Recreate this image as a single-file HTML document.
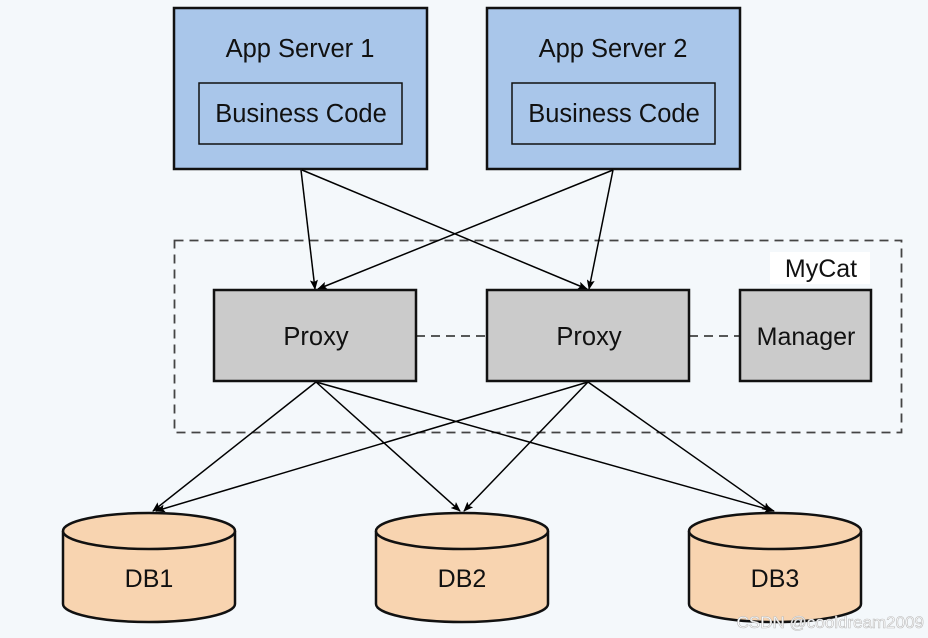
<!DOCTYPE html>
<html><head><meta charset="utf-8"><style>
html,body{margin:0;padding:0;background:#f4f8fb;}
svg{display:block;font-family:"Liberation Sans","DejaVu Sans",sans-serif;}
</style></head><body>
<svg width="928" height="638" viewBox="0 0 928 638" xmlns="http://www.w3.org/2000/svg">
<defs>
<marker id="a" markerWidth="10" markerHeight="8" refX="9" refY="4" orient="auto" markerUnits="userSpaceOnUse">
<path d="M0,0 L10,4 L0,8 L2,4 z" fill="#000"/></marker>
</defs>
<rect width="928" height="638" fill="#f4f8fb"/>
<rect x="174.5" y="240.5" width="727" height="192" fill="none" stroke="#444" stroke-width="1.8" stroke-dasharray="9,6"/>
<rect x="770" y="252" width="100" height="32" fill="#fff"/>
<text x="821" y="277" font-size="25" text-anchor="middle" fill="#111">MyCat</text>
<rect x="174" y="8" width="253" height="161" fill="#a9c6ea" stroke="#111" stroke-width="2.5"/>
<rect x="199" y="83" width="203" height="61" fill="#a9c6ea" stroke="#111" stroke-width="1.5"/>
<text x="300" y="57" font-size="25.5" text-anchor="middle" fill="#111">App Server 1</text>
<text x="301" y="122" font-size="25.5" text-anchor="middle" fill="#111">Business Code</text>
<rect x="487" y="8" width="253" height="161" fill="#a9c6ea" stroke="#111" stroke-width="2.5"/>
<rect x="512" y="83" width="203" height="61" fill="#a9c6ea" stroke="#111" stroke-width="1.5"/>
<text x="613" y="57" font-size="25.5" text-anchor="middle" fill="#111">App Server 2</text>
<text x="614" y="122" font-size="25.5" text-anchor="middle" fill="#111">Business Code</text>
<line x1="416" y1="336" x2="487" y2="336" stroke="#222" stroke-width="1.5" stroke-dasharray="9,6"/>
<line x1="689" y1="336" x2="740" y2="336" stroke="#222" stroke-width="1.5" stroke-dasharray="9,6"/>
<g stroke="#000" stroke-width="1.5" fill="none" marker-end="url(#a)">
<line x1="301" y1="170" x2="315" y2="289"/>
<line x1="302" y1="170" x2="587" y2="289"/>
<line x1="613" y1="170" x2="318" y2="289"/>
<line x1="613" y1="170" x2="589" y2="289"/>
<line x1="316" y1="382" x2="153" y2="511"/>
<line x1="316" y1="382" x2="460" y2="511"/>
<line x1="316" y1="382" x2="774" y2="511"/>
<line x1="588" y1="382" x2="156" y2="511"/>
<line x1="588" y1="382" x2="464" y2="511"/>
<line x1="588" y1="382" x2="771" y2="511"/>
</g>
<rect x="214" y="290" width="202" height="91" fill="#cbcbcb" stroke="#111" stroke-width="2.5"/>
<text x="316" y="345" font-size="25.5" text-anchor="middle" fill="#111">Proxy</text>
<rect x="487" y="290" width="202" height="91" fill="#cbcbcb" stroke="#111" stroke-width="2.5"/>
<text x="589" y="345" font-size="25.5" text-anchor="middle" fill="#111">Proxy</text>
<rect x="740" y="290" width="131" height="91" fill="#cbcbcb" stroke="#111" stroke-width="2.5"/>
<text x="806" y="345" font-size="25" text-anchor="middle" fill="#111">Manager</text>
<g stroke="#111" stroke-width="2.5" fill="#f8d4b0">
<path d="M63,531 L63,604 A86,18 0 0 0 235,604 L235,531"/>
<ellipse cx="149" cy="531" rx="86" ry="18"/>
<path d="M376,531 L376,604 A86,18 0 0 0 548,604 L548,531"/>
<ellipse cx="462" cy="531" rx="86" ry="18"/>
<path d="M689,531 L689,604 A86,18 0 0 0 861,604 L861,531"/>
<ellipse cx="775" cy="531" rx="86" ry="18"/>
</g>
<text x="149" y="587" font-size="25" text-anchor="middle" fill="#111">DB1</text>
<text x="462" y="587" font-size="25" text-anchor="middle" fill="#111">DB2</text>
<text x="775" y="587" font-size="25" text-anchor="middle" fill="#111">DB3</text>
<text x="924" y="628" font-size="17" text-anchor="end" fill="#fff" stroke="#bbb" stroke-width="0.6">CSDN @cooldream2009</text>
</svg>
</body></html>
